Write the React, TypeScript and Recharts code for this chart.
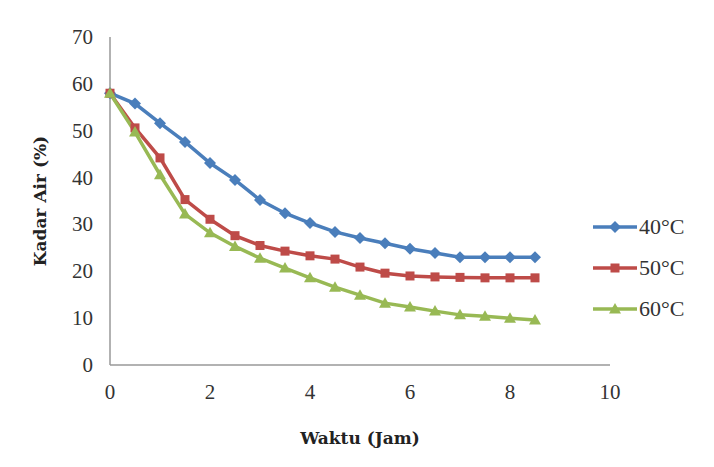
import React from 'react';
import { LineChart, Line, XAxis, YAxis, Label } from 'recharts';

// Waktu (jam), tiap 0.5 jam
const hours = [0, 0.5, 1, 1.5, 2, 2.5, 3, 3.5, 4, 4.5, 5, 5.5, 6, 6.5, 7, 7.5, 8, 8.5];
const t40 = [58.0, 55.8, 51.6, 47.6, 43.1, 39.5, 35.2, 32.4, 30.3, 28.4, 27.1, 26.0, 24.8, 23.9, 23.0, 23.0, 23.0, 23.0];
const t50 = [58.0, 50.6, 44.2, 35.3, 31.1, 27.6, 25.5, 24.3, 23.3, 22.6, 20.9, 19.6, 19.0, 18.8, 18.7, 18.6, 18.6, 18.6];
const t60 = [58.0, 49.7, 40.6, 32.2, 28.2, 25.3, 22.8, 20.7, 18.6, 16.6, 14.9, 13.2, 12.4, 11.5, 10.7, 10.4, 10.0, 9.6];

const xTicks = [0, 2, 4, 6, 8, 10];
const yTicks = [0, 10, 20, 30, 40, 50, 60, 70];

const series = [
  { key: 't40', name: '40°C', color: '#4a7ebb', shape: 'diamond' },
  { key: 't50', name: '50°C', color: '#be4b48', shape: 'square' },
  { key: 't60', name: '60°C', color: '#98b954', shape: 'triangle' },
];

const data = hours.map((h, i) => ({ h, t40: t40[i], t50: t50[i], t60: t60[i] }));

const serif = 'Liberation Serif';
const titleFont = { fontFamily: 'DejaVu Serif', fontSize: 17, fontWeight: 'bold', fill: '#222' };

const XTick = ({ x, y, payload }: any) => (
  <text x={x} y={y} dy={18} textAnchor="middle" style={{ fontFamily: serif, fontSize: 21 }} fill="#333">
    {payload.value}
  </text>
);

const YTick = ({ x, y, payload }: any) => (
  <text x={x} y={y} dy={7} textAnchor="end" style={{ fontFamily: serif, fontSize: 21 }} fill="#333">
    {payload.value}
  </text>
);

const Marker = ({ cx, cy, color, shape }: any) => {
  if (cx == null || cy == null) return null;
  if (shape === 'diamond') {
    const r = 6;
    return <polygon points={`${cx},${cy - r} ${cx + r},${cy} ${cx},${cy + r} ${cx - r},${cy}`} fill={color} />;
  }
  if (shape === 'square') {
    const r = 4.5;
    return <rect x={cx - r} y={cy - r} width={r * 2} height={r * 2} fill={color} />;
  }
  const r = 6;
  return <polygon points={`${cx},${cy - r} ${cx + r},${cy + r * 0.75} ${cx - r},${cy + r * 0.75}`} fill={color} />;
};

const LegendBox = () => (
  <div style={{ position: 'absolute', left: 591, top: 206 }}>
    {series.map(s => (
      <div key={s.key} style={{ display: 'flex', alignItems: 'center', height: 41 }}>
        <svg width={48} height={16}>
          <line x1={2} y1={8} x2={46} y2={8} stroke={s.color} strokeWidth={3.5} />
          <Marker cx={24} cy={8} color={s.color} shape={s.shape} />
        </svg>
        <span style={{ fontFamily: serif, fontSize: 22, color: '#333' }}>{s.name}</span>
      </div>
    ))}
  </div>
);

export default function App() {
  return (
    <div style={{ position: 'absolute', left: 0, top: 0, width: 714, height: 467, background: '#fff' }}>
      <LineChart width={714} height={467} data={data} margin={{ top: 37, right: 104, bottom: 72, left: 0 }}>
        <XAxis
          dataKey="h"
          type="number"
          domain={[0, 10]}
          ticks={xTicks}
          tickLine={false}
          tickSize={0}
          tickMargin={16}
          stroke="#999"
          strokeWidth={1.5}
          tick={<XTick />}
          height={30}
        >
          <Label value="Waktu (Jam)" position="insideBottom" offset={-49} style={titleFont} />
        </XAxis>
        <YAxis
          type="number"
          domain={[0, 70]}
          ticks={yTicks}
          tickLine={false}
          tickSize={0}
          tickMargin={17}
          stroke="#999"
          strokeWidth={1.5}
          tick={<YTick />}
          width={110}
        >
          <Label value="Kadar Air (%)" angle={-90} position="insideLeft" offset={40} style={{ ...titleFont, textAnchor: 'middle' }} />
        </YAxis>
        {series.map(s => (
          <Line
            key={s.key}
            dataKey={s.key}
            name={s.name}
            type="linear"
            stroke={s.color}
            strokeWidth={3.5}
            dot={(p: any) => <Marker key={`${s.key}-${p.index}`} cx={p.cx} cy={p.cy} color={s.color} shape={s.shape} />}
            activeDot={false}
            isAnimationActive={false}
          />
        ))}
      </LineChart>
      <LegendBox />
    </div>
  );
}
